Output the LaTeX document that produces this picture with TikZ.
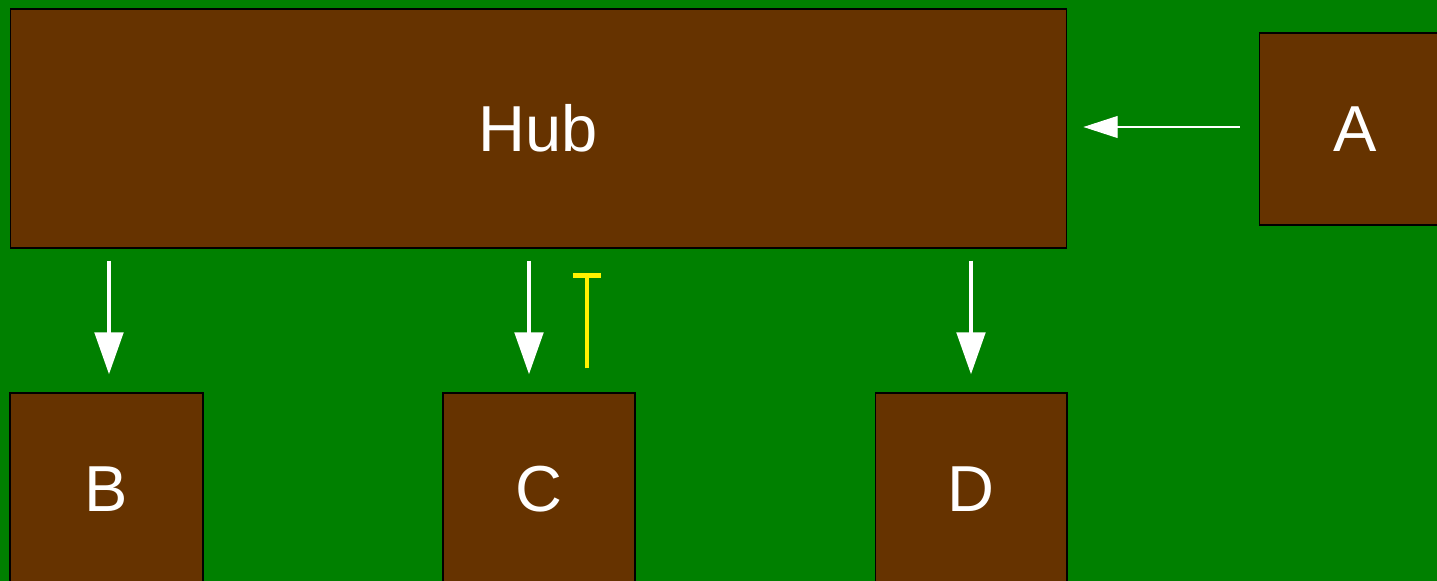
\documentclass[tikz,border=0pt]{standalone}
\usepackage{fontspec}
\setmainfont{Liberation Sans}
\usetikzlibrary{arrows.meta}
\definecolor{bggreen}{RGB}{0,128,0}
\definecolor{boxbrown}{RGB}{102,51,0}
\tikzset{box/.style={draw=black, line width=0.6pt, fill=boxbrown, text=white, inner sep=0pt,
    font=\fontsize{37}{44}\selectfont},
  flow/.style={draw=white, line width=2.8pt, -{Triangle[width=16pt,length=24pt]}},
  feed/.style={draw=white, line width=0.6pt, -{Triangle[width=12.5pt,length=19.5pt]}},
  inhibit/.style={draw=yellow, line width=2.3pt, -{Bar[width=16pt]}}}

\begin{document}
\begin{tikzpicture}[x=0.02cm,y=-0.02cm]
        \fill[bggreen] (0,0) rectangle (1437,581);
        \useasboundingbox (0,0) rectangle (1437,581);
        % boxes
        \node[box, minimum width=21.14cm, minimum height=4.78cm] (hub) at (538.5,128.5) {Hub};
        \node[box, minimum width=3.84cm, minimum height=3.84cm] (a) at (1355,129) {A};
        \node[box, minimum width=3.86cm, minimum height=3.84cm] (b) at (106.5,489) {B};
        \node[box, minimum width=3.84cm, minimum height=3.84cm] (c) at (539,489) {C};
        \node[box, minimum width=3.84cm, minimum height=3.84cm] (d) at (971,489) {D};
        % arrows
        \draw[feed, shorten <=0.38cm, shorten >=0.32cm] ([yshift=0.04cm]a.west) -- ([yshift=0.04cm]a.west -| hub.east);
        \draw[flow, shorten <=0.24cm, shorten >=0.36cm] ([xshift=0.05cm]b.north |- hub.south) -- ([xshift=0.05cm]b.north);
        \draw[flow, shorten <=0.24cm, shorten >=0.36cm] ([xshift=-0.2cm]c.north |- hub.south) -- ([xshift=-0.2cm]c.north);
        \draw[inhibit, shorten <=0.48cm, shorten >=0.5cm] ([xshift=0.96cm]c.north) -- ([xshift=0.96cm]c.north |- hub.south);
        \draw[flow, shorten <=0.24cm, shorten >=0.36cm] (d.north |- hub.south) -- (d.north);
\end{tikzpicture}
\end{document}
